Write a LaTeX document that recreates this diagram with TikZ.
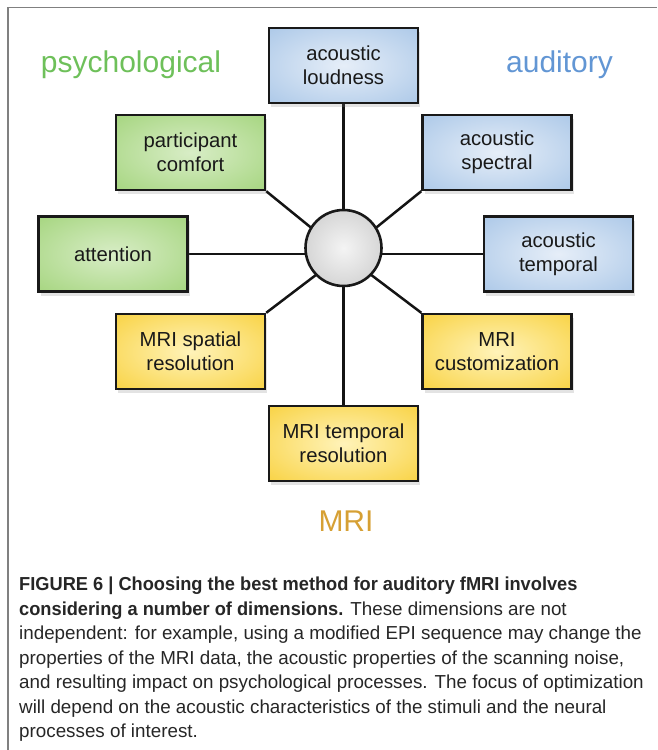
\documentclass[tikz,border=0pt]{standalone}
\usepackage{fontspec}
\setmainfont{Liberation Sans}[BoldFeatures={FakeStretch=0.97}]
\usetikzlibrary{shadows,backgrounds}

\definecolor{greenin}{RGB}{216,237,198}
\definecolor{greenout}{RGB}{146,204,100}
\definecolor{bluein}{RGB}{230,238,248}
\definecolor{blueout}{RGB}{150,186,226}
\definecolor{yellowin}{RGB}{255,243,185}
\definecolor{yellowout}{RGB}{246,198,22}
\definecolor{grayin}{RGB}{244,244,244}
\definecolor{grayout}{RGB}{184,184,184}
\definecolor{psygreen}{RGB}{110,192,90}
\definecolor{audblue}{RGB}{98,150,212}
\definecolor{mrigold}{RGB}{214,160,52}

\pgfdeclareradialshading{greenglow}{\pgfpointorigin}{color(0bp)=(greenin); color(50bp)=(greenout)}
\pgfdeclareradialshading{blueglow}{\pgfpointorigin}{color(0bp)=(bluein); color(50bp)=(blueout)}
\pgfdeclareradialshading{yellowglow}{\pgfpointorigin}{color(0bp)=(yellowin); color(50bp)=(yellowout)}
\pgfdeclareradialshading{grayglow}{\pgfpointorigin}{color(0bp)=(grayin); color(50bp)=(grayout)}

\begin{document}
\begin{tikzpicture}[
		x=1pt, y=-1pt,
		dimbox/.style={draw=black!90, line width=2.4pt, minimum width=149pt, minimum height=75pt, inner sep=0pt, align=center, text=black!90, font=\fontsize{20.3}{24}\selectfont, drop shadow={opacity=0.22, shadow xshift=2pt, shadow yshift=-4pt}},
		psybox/.style={dimbox, shading=greenglow},
		audbox/.style={dimbox, shading=blueglow},
		mribox/.style={dimbox, shading=yellowglow},
		core/.style={circle, draw=black!90, line width=2.6pt, minimum size=76pt, inner sep=0pt, shading=grayglow},
		group/.style={anchor=base, font=\fontsize{30}{36}\selectfont},
		link/.style={line width=2.5pt, black!92}
	]
		\useasboundingbox (0,0) rectangle (657,750);
		\draw[gray, line width=1.3pt] (8,750) -- (8,7.5) -- (657,7.5);
		\node[group, text=psygreen] (psy) at (131,72) {psychological};
		\node[group, text=audblue] (aud) at (559.5,72) {auditory};
		\node[group, text=mrigold] (mri) at (346,531.5) {MRI};
		\node[audbox] (loudness) at (343.5,65.5) {acoustic\\loudness};
		\node[psybox] (comfort) at (190.5,152.5) {participant\\comfort};
		\node[audbox] (spectral) at (497,152.5) {acoustic\\spectral};
		\node[psybox] (attention) at (113,254) {attention};
		\node[audbox] (temporal) at (558.5,254) {acoustic\\temporal};
		\node[mribox] (spatial) at (190.5,351.5) {MRI spatial\\resolution};
		\node[mribox] (custom) at (497,351.5) {MRI\\customization};
		\node[mribox] (mritime) at (343.5,443.5) {MRI temporal\\resolution};
		\coordinate (hub) at (343.5,254);
		\node[core] (center) at (343.5,248) {};
		\begin{scope}[on background layer]
			\draw[link] (loudness.south) -- (hub);
			\draw[link] (comfort.south east) -- (hub);
			\draw[link] (spectral.south west) -- (hub);
			\draw[link] (attention.east) -- (hub);
			\draw[link] (temporal.west) -- (hub);
			\draw[link] (spatial.north east) -- (hub);
			\draw[link] (custom.north west) -- (hub);
			\draw[link] (mritime.north) -- (hub);
		\end{scope}
		\node[anchor=north west, align=left, inner sep=0pt, text=black!85, font=\fontsize{18.8}{24.5}\selectfont] (caption) at (19,577) {\textbf{FIGURE 6 | Choosing the best method for auditory fMRI involves}\\\textbf{considering a number of dimensions.} These dimensions are not\\independent: for example, using a modified EPI sequence may change the\\properties of the MRI data, the acoustic properties of the scanning noise,\\and resulting impact on psychological processes. The focus of optimization\\will depend on the acoustic characteristics of the stimuli and the neural\\processes of interest.};
	\end{tikzpicture}
\end{document}
